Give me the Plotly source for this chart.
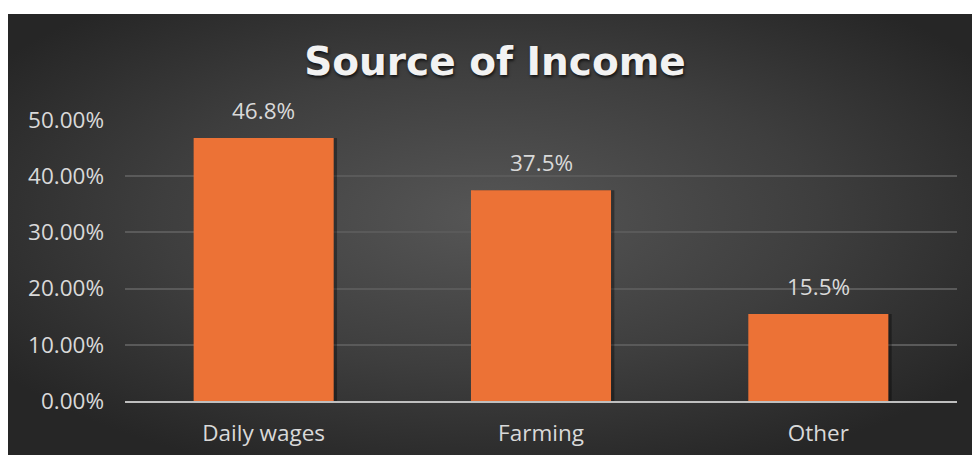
import base64
import plotly.graph_objects as go

# ---- data ----
categories = ["Daily wages", "Farming", "Other"]
share_pct = [46.8, 37.5, 15.5]
title_text = "Source of Income"

shares = [v / 100 for v in share_pct]
labels = [f"{v:.1f}%" for v in share_pct]

W, H = 972, 455
L, R, T, B = 125, 15, 120, 54
pw, ph = W - L - R, H - T - B


def px_x(p):
    return (p - L) / pw


def px_y(p):
    return (H - B - p) / ph


# radial gradient background (dark panel) as an SVG image
svg = (
    "<svg xmlns='http://www.w3.org/2000/svg' width='964' height='441' preserveAspectRatio='none'>"
    "<defs><radialGradient id='g' cx='0.5' cy='0.46' r='0.62'>"
    "<stop offset='0' stop-color='#565656'/>"
    "<stop offset='0.55' stop-color='#3e3e3e'/>"
    "<stop offset='1' stop-color='#262626'/>"
    "</radialGradient></defs>"
    "<rect width='964' height='441' fill='url(#g)'/></svg>"
)
svg_uri = "data:image/svg+xml;base64," + base64.b64encode(svg.encode()).decode()

fig = go.Figure()

# soft shadow behind bars
fig.add_trace(go.Bar(
    x=categories, y=shares,
    width=0.505, offset=-0.2525 + 0.012,
    marker=dict(color="rgba(0,0,0,0.35)", line=dict(width=0)),
    hoverinfo="skip", showlegend=False,
))
fig.add_trace(go.Bar(
    x=categories, y=shares,
    width=0.505, offset=-0.2525,
    marker=dict(color="#EC7236", line=dict(width=0)),
    showlegend=False,
))

for c, v, lab in zip(categories, shares, labels):
    fig.add_annotation(
        x=c, y=v, text=lab, showarrow=False, yanchor="bottom", yshift=10,
        font=dict(family="Open Sans", size=22.5, color="#D9D9D9"),
    )

fig.update_layout(
    width=W, height=H,
    margin=dict(l=L, r=R, t=T, b=B),
    paper_bgcolor="white",
    plot_bgcolor="rgba(0,0,0,0)",
    barmode="overlay",
    title=dict(
        text=title_text, xref="container", yref="container",
        x=495 / W, y=1 - 61 / H, xanchor="center", yanchor="middle",
        font=dict(family="DejaVu Sans", size=39, color="#F2F2F2", weight="bold",
                  shadow="1px 2px 3px rgba(0,0,0,0.7)"),
    ),
    images=[dict(
        source=svg_uri, xref="paper", yref="paper",
        x=px_x(8), y=px_y(14), sizex=(W - 8) / pw, sizey=(H - 14) / ph,
        xanchor="left", yanchor="top", sizing="stretch", layer="below",
    )],
    xaxis=dict(
        showgrid=False, showline=True, linecolor="#BFBFBF", linewidth=2,
        ticks="", ticklabelstandoff=11, automargin=False,
        tickfont=dict(family="Open Sans", size=22.5, color="#D9D9D9"),
        zeroline=False,
    ),
    yaxis=dict(
        range=[0, 0.5], dtick=0.1, tickformat=".2%", automargin=False,
        showgrid=True, gridcolor="#5A5A5A", gridwidth=1.5,
        zeroline=False, showline=False, ticks="", ticklabelstandoff=20,
        tickfont=dict(family="Open Sans", size=22.5, color="#D9D9D9"),
    ),
)

fig.write_html("out.html")
